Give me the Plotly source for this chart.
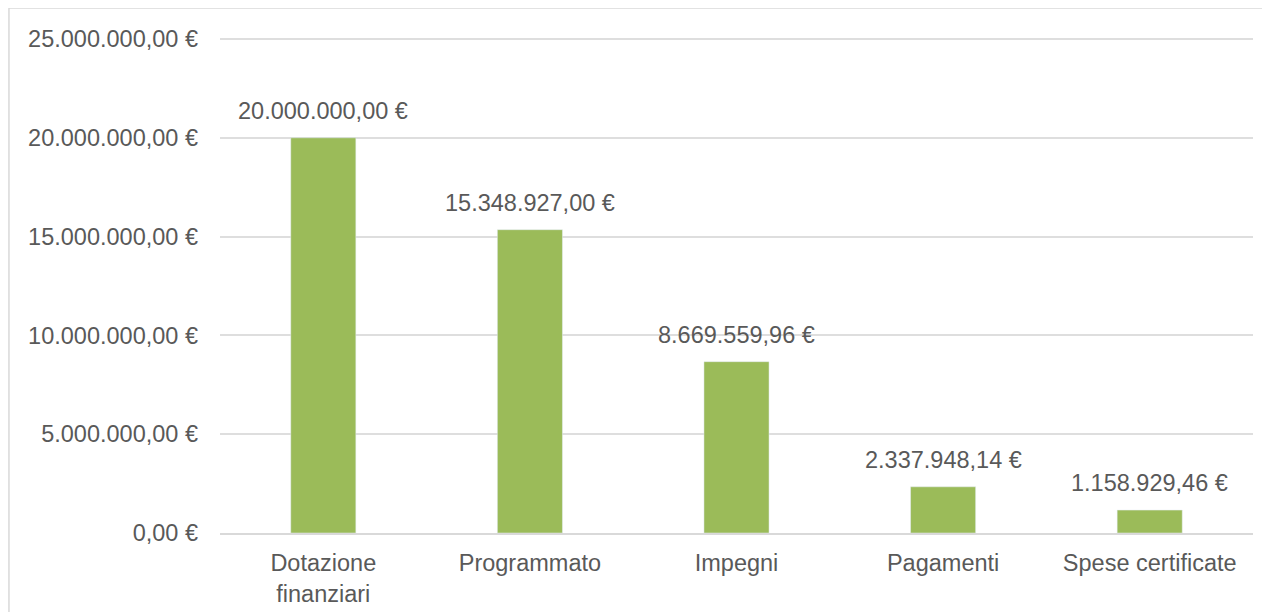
import plotly.graph_objects as go

categories = ["Dotazione<br>finanziari", "Programmato", "Impegni", "Pagamenti", "Spese certificate"]
values = [20000000.00, 15348927.00, 8669559.96, 2337948.14, 1158929.46]
tick_values = [0, 5000000, 10000000, 15000000, 20000000, 25000000]


def euro(v):
    s = f"{v:,.2f}".replace(",", "X").replace(".", ",").replace("X", ".")
    return s + " €"


tick_labels = [euro(v) for v in tick_values]
bar_labels = [euro(v) for v in values]

fig = go.Figure(go.Bar(x=categories, y=values, marker_color="#9BBB59"))

# data labels above the bars
for cat, val, lab in zip(categories, values, bar_labels):
    fig.add_annotation(x=cat, y=val, text=lab, showarrow=False,
                       yanchor="bottom", yshift=12,
                       font=dict(size=23.5, color="#595959"))

fig.update_layout(
    width=1262, height=604,
    margin=dict(l=212, r=17, t=29, b=79),
    paper_bgcolor="white", plot_bgcolor="white",
    font=dict(family="Liberation Sans, Arial, sans-serif", size=23.5, color="#595959"),
    bargap=0.685, showlegend=False,
)
# small headroom so the top gridline is drawn
fig.update_yaxes(range=[0, max(tick_values) * 1.004], tickvals=tick_values, ticktext=tick_labels,
                 gridcolor="#dedede", gridwidth=1.5, zeroline=False,
                 ticks="", showline=False, ticklabelstandoff=21, automargin=False)
fig.update_xaxes(showline=True, linecolor="#d9d9d9", linewidth=2, ticks="",
                 tickangle=0, ticklabelstandoff=8, automargin=False)

# outer chart border (left and top visible)
fig.add_shape(type="rect", xref="paper", yref="paper",
              x0=-0.2043, x1=1.2, y0=-0.3, y1=1.0587,
              line=dict(color="#d9d9d9", width=1.5))

fig.write_html("out.html")
